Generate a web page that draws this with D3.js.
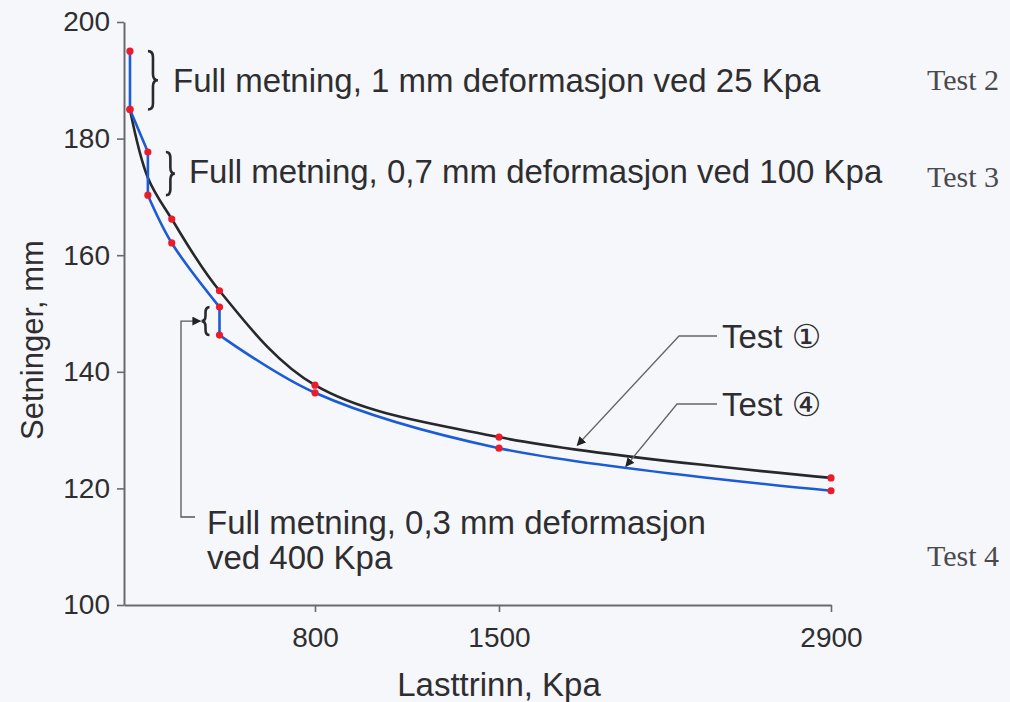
<!DOCTYPE html>
<html><head><meta charset="utf-8">
<script src="https://cdn.jsdelivr.net/npm/d3@7"></script>
<style>
html,body{margin:0;padding:0;background:#f6f7fb;}
svg{display:block;}
</style></head><body>
<svg id="chart" width="1010" height="702"></svg>
<script>
// Load steps (kPa) and settlements (mm)
const xTickValues = [800, 1500, 2900];
const yTickValues = [100, 120, 140, 160, 180, 200];

// Test 1 – smooth settlement curve
const test1Loads = [25, 100, 200, 400, 800, 1500, 2900];
const test1Settlement = [185, 173.3, 166.2, 153.9, 137.7, 128.8, 121.8];
const test1Marked = [true, false, true, true, true, true, true];

// Test 4 – drops where the sample was saturated (repeated load = vertical step)
const test4Loads = [25, 25, 100, 100, 200, 400, 400, 800, 1500, 2900];
const test4Settlement = [195, 185, 177.7, 170.3, 162.1, 151.1, 146.3, 136.4, 126.9, 119.6];

// Saturation steps marked with braces: [load, from, to]
const saturationSteps = [[25, 195, 185], [100, 177.7, 170.3], [400, 151.1, 146.3]];

const noteTexts = [
  "Full metning, 1 mm deformasjon ved 25 Kpa",
  "Full metning, 0,7 mm deformasjon ved 100 Kpa",
  ["Full metning, 0,3 mm deformasjon", "ved 400 Kpa"]
];
const testLabels = ["Test 2", "Test 3", "Test 4"];
const curveLabels = ["Test \u2460", "Test \u2463"];
// points on the curves the leader arrows point to: [load, settlement]
const curveLabelTargets = [[1830, 127.4], [2035, 123.8]];

const svg = d3.select("#chart");
const sans = "'Liberation Sans', Arial, 'DejaVu Sans', sans-serif";
const serif = "'Liberation Serif', 'Times New Roman', serif";
const ink = "#2e2e30";

const x = d3.scaleLinear().domain([0, 800, 1500, 2900]).range([124, 315, 499, 831]);
const y = d3.scaleLinear().domain([100, 200]).range([605, 22]);

// arrow marker
const defs = svg.append("defs");
defs.append("marker").attr("id", "arrow").attr("viewBox", "0 0 10 10")
  .attr("refX", 9).attr("refY", 5).attr("markerWidth", 9).attr("markerHeight", 9)
  .attr("markerUnits", "userSpaceOnUse").attr("orient", "auto")
  .append("path").attr("d", "M0,0 L10,5 L0,10 Z").attr("fill", "#222");

// axes
const yAxis = d3.axisLeft(y).tickValues(yTickValues).tickSize(7).tickSizeOuter(0).tickPadding(7)
  .tickFormat(d3.format("d"));
const xAxis = d3.axisBottom(x).tickValues(xTickValues).tickSize(7).tickSizeOuter(0).tickPadding(15)
  .tickFormat(d3.format("d"));

const gy = svg.append("g").attr("transform", `translate(${x(0)},0)`).call(yAxis);
const gx = svg.append("g").attr("transform", `translate(0,${y(100)})`).call(xAxis);
[gx, gy].forEach(g => {
  g.select(".domain").attr("stroke", "#6a6a6e").attr("stroke-width", 2);
  g.selectAll(".tick line").attr("stroke", "#6a6a6e").attr("stroke-width", 1.6);
  g.selectAll(".tick text").attr("fill", ink).style("font-family", sans).style("font-size", "28px");
});
gx.selectAll(".tick text").attr("dy", "0.71em");

svg.append("text").attr("x", x(1500)).attr("y", 696).attr("text-anchor", "middle")
  .style("font-family", sans).style("font-size", "33px").attr("fill", ink).text("Lasttrinn, Kpa");
svg.append("text").attr("transform", "translate(43,340) rotate(-90)").attr("text-anchor", "middle")
  .style("font-family", sans).style("font-size", "31px").attr("fill", ink).text("Setninger, mm");

// curves
const pts1 = test1Loads.map((l, i) => ({x: x(l), y: y(test1Settlement[i]), mark: test1Marked[i]}));
const pts4 = test4Loads.map((l, i) => ({x: x(l), y: y(test4Settlement[i])}));

const smooth = d3.line().x(d => d.x).y(d => d.y).curve(d3.curveCatmullRom.alpha(0.5));
const straight = d3.line().x(d => d.x).y(d => d.y);

// split a series into smooth runs and vertical steps
function pieces(pts) {
  const out = [];
  let run = [pts[0]];
  for (let i = 1; i < pts.length; i++) {
    const p = pts[i], last = run[run.length - 1];
    if (p.x === last.x) {
      if (run.length > 1) out.push({d: smooth(run)});
      out.push({d: straight([last, p])});
      run = [p];
    } else run.push(p);
  }
  if (run.length > 1) out.push({d: smooth(run)});
  return out;
}

svg.append("path").attr("d", smooth(pts1)).attr("fill", "none")
  .attr("stroke", "#26282b").attr("stroke-width", 2.6).attr("stroke-linecap", "round");

svg.append("g").selectAll("path").data(pieces(pts4)).join("path")
  .attr("d", d => d.d).attr("fill", "none").attr("stroke", "#1b5bd6")
  .attr("stroke-width", 2.6).attr("stroke-linecap", "round").attr("stroke-linejoin", "round");

// measurement dots
const dots = pts1.filter(p => p.mark).concat(pts4);
svg.append("g").selectAll("circle").data(dots).join("circle")
  .attr("cx", d => d.x).attr("cy", d => d.y).attr("r", 3.6).attr("fill", "#ea1c2c");

// braces
function brace(x0, y0, y1, w, dir) {
  const h = w * dir, ym = (y0 + y1) / 2, r = Math.min(6, (y1 - y0) / 5);
  const xm = x0 + h / 2;
  return `M${x0},${y0} Q${xm},${y0} ${xm},${y0 + r} L${xm},${ym - r} Q${xm},${ym} ${x0 + h},${ym}` +
         ` Q${xm},${ym} ${xm},${ym + r} L${xm},${y1 - r} Q${xm},${y1} ${x0},${y1}`;
}
const braceSpecs = [
  {dx: 18, w: 10, dir: 1},
  {dx: 18, w: 9, dir: 1},
  {dx: -10, w: 8, dir: -1}
];
svg.append("g").selectAll("path").data(saturationSteps).join("path")
  .attr("d", (s, i) => {
    const b = braceSpecs[i];
    return brace(x(s[0]) + b.dx, y(s[1]), y(s[2]), b.w, b.dir);
  })
  .attr("fill", "none").attr("stroke", "#2a2a2a").attr("stroke-width", 2.6);

// notes for the saturation steps
const notes = svg.append("g").style("font-family", sans).style("font-size", "33px").attr("fill", ink);
notes.append("text").attr("x", x(25) + 43).attr("y", y(190) + 12).text(noteTexts[0]);
notes.append("text").attr("x", x(100) + 41).attr("y", y(174.5) + 12).text(noteTexts[1]);
const n3 = notes.append("text").attr("x", 207).attr("y", 534);
n3.append("tspan").attr("x", 207).text(noteTexts[2][0]);
n3.append("tspan").attr("x", 207).attr("dy", 35).text(noteTexts[2][1]);

// leader for the 400 kPa step
const by = y((saturationSteps[2][1] + saturationSteps[2][2]) / 2);
svg.append("path").attr("d", `M195,517 L181,517 L181,${by} L${x(400) - 19},${by}`)
  .attr("fill", "none").attr("stroke", "#555").attr("stroke-width", 1.3).attr("marker-end", "url(#arrow)");

// test labels on the right
svg.append("g").selectAll("text").data(testLabels).join("text")
  .attr("x", 927).attr("y", (d, i) => [90, 187, 566][i])
  .style("font-family", serif).style("font-size", "30px").attr("fill", "#4a4a4e").text(d => d);

// curve labels with leader arrows
const cl = svg.append("g");
curveLabels.forEach((t, i) => {
  const ly = [336, 404][i];
  cl.append("text").attr("x", 722).attr("y", ly + 12).style("font-family", sans)
    .style("font-size", "33px").attr("fill", ink).text(t);
  const [l, s] = curveLabelTargets[i];
  cl.append("path").attr("d", `M717,${ly} L${[679, 677][i]},${ly} L${x(l)},${y(s)}`)
    .attr("fill", "none").attr("stroke", "#666").attr("stroke-width", 1.3).attr("marker-end", "url(#arrow)");
});
</script>
</body></html>
